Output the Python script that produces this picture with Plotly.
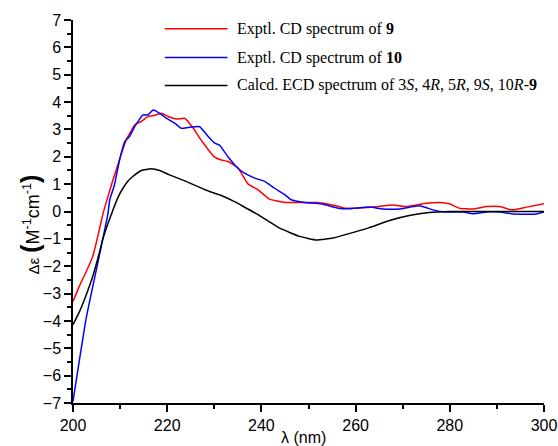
import plotly.graph_objects as go

# ---- data ----
red_x = [200, 201.4, 202.8, 204.2, 205, 206.4, 207.5, 208.5, 209.5, 210.3, 211.3, 212.2, 213.1,
         214.5, 215.9, 217, 218.8, 220.2, 222, 223.7, 225.5, 226.9, 227.9, 229, 230, 231.5,
         232.9, 235, 237.2, 239.3, 241.7, 245, 249.2, 252, 255.6, 257.7, 260, 263.6, 267.9,
         270.7, 275, 277.8, 279.9, 282.1, 284.9, 287.8, 290.6, 293.1, 296.3, 300]
red_y = [-3.29, -2.71, -2.2, -1.64, -1.1, -0.06, 0.6, 1.16, 1.7, 2.13, 2.62, 2.9, 3.17,
         3.29, 3.47, 3.5, 3.59, 3.47, 3.38, 3.41, 3.05, 2.68, 2.45, 2.2, 2.0, 1.88,
         1.83, 1.6, 1.0, 0.79, 0.45, 0.33, 0.33, 0.33, 0.22, 0.12, 0.12, 0.16, 0.24,
         0.18, 0.30, 0.33, 0.28, 0.12, 0.09, 0.18, 0.18, 0.06, 0.16, 0.28]

blue_x = [200, 202.8, 205.7, 207.4, 207.8, 208.8, 209.9, 211, 212, 213.1, 214.9, 215.9, 217,
          218.4, 219.8, 221.6, 223, 224.5, 226.9, 228.7, 230.1, 231.1, 232.9, 235, 236.4,
          238.6, 240.7, 242.8, 245, 246.3, 249.2, 252.7, 256.3, 258.7, 262.9, 265.8, 269.3,
          273.6, 276.4, 279.3, 282.8, 284.9, 287.8, 290.6, 293.5, 298.4, 300]
blue_y = [-6.94, -3.9, -1.52, -0.1, 0.43, 0.97, 1.89, 2.56, 2.74, 3.1, 3.53, 3.53, 3.71,
          3.59, 3.41, 3.23, 3.04, 3.07, 3.1, 2.74, 2.5, 2.43, 2.0, 1.58, 1.4,
          1.22, 1.1, 0.85, 0.61, 0.43, 0.33, 0.28, 0.12, 0.1, 0.16, 0.09, 0.09,
          0.21, 0.06, -0.02, -0.02, -0.08, -0.02, -0.02, -0.09, -0.09, -0.02]

black_x = [200, 201.4, 202.8, 204.2, 205.3, 206.4, 207.5, 208.5, 209.5, 210.6, 211.6, 212.7,
           214.5, 216.6, 218.4, 220.5, 224, 226.9, 229, 231.1, 234.3, 236.5, 239.6, 243.9,
           248.1, 251.7, 255.2, 258.8, 262.9, 267.2, 271.4, 275.6, 280, 290, 300]
black_y = [-4.14, -3.65, -3.05, -2.37, -1.7, -0.97, -0.4, 0.06, 0.5, 0.85, 1.1, 1.28,
           1.5, 1.56, 1.5, 1.34, 1.1, 0.88, 0.73, 0.61, 0.36, 0.15, -0.15, -0.61,
           -0.91, -1.04, -0.97, -0.8, -0.59, -0.33, -0.15, -0.04, 0.0, 0.0, 0.0]

legend_labels = [
    "Exptl. CD spectrum of <b>9</b>",
    "Exptl. CD spectrum of <b>10</b>",
    "Calcd. ECD spectrum of 3<i>S</i>, 4<i>R</i>, 5<i>R</i>, 9<i>S</i>, 10<i>R</i>-<b>9</b>",
]
colors = ["#ff0000", "#0000ff", "#000000"]

fig = go.Figure()
for xs, ys, c, name in zip([red_x, blue_x, black_x], [red_y, blue_y, black_y], colors, legend_labels):
    fig.add_trace(go.Scatter(x=xs, y=ys, mode="lines", name=name,
                             line=dict(color=c, width=1.5, shape="spline", smoothing=0.4),
                             showlegend=False))

# manual legend
leg_y = [0.977, 0.902, 0.829]
for ly, c, name in zip(leg_y, colors, legend_labels):
    fig.add_shape(type="line", xref="paper", yref="paper", x0=0.195, x1=0.328, y0=ly, y1=ly,
                  line=dict(color=c, width=1.5))
    fig.add_annotation(xref="paper", yref="paper", x=0.343, y=ly, text=name, showarrow=False,
                       xanchor="left", yanchor="middle",
                       font=dict(family="Liberation Serif", size=16, color="black"))

# axis titles
fig.add_annotation(xref="paper", yref="paper", x=0.49, y=-0.09, text="λ (nm)", showarrow=False,
                   xanchor="center", yanchor="middle",
                   font=dict(family="Liberation Sans", size=16, color="black"))
fig.add_annotation(xref="paper", yref="paper", x=-0.092, y=0.465, textangle=-90, showarrow=False,
                   xanchor="center", yanchor="middle",
                   text="<span style='font-size:15px'>Δε</span> <span style='font-size:25px;font-weight:bold'>(</span>M<sup>-1</sup>cm<sup>-1</sup><span style='font-size:25px;font-weight:bold'>)</span>",
                   font=dict(family="Liberation Sans", size=18, color="black"))

axis_common = dict(showline=True, linecolor="black", linewidth=1.5, ticks="outside",
                   ticklen=7, tickwidth=1.5, tickcolor="black", showgrid=False, zeroline=False,
                   tickfont=dict(family="Liberation Sans", size=16, color="black"), mirror=False,
                   automargin=False)

fig.update_xaxes(range=[200, 300], tick0=200, dtick=20,
                 minor=dict(ticks="outside", ticklen=4, tickwidth=1.5, tickcolor="black", dtick=10),
                 **axis_common)
fig.update_yaxes(range=[-7, 7], tick0=-7, dtick=1,
                 minor=dict(ticks="outside", ticklen=4, tickwidth=1.5, tickcolor="black", dtick=0.5),
                 **axis_common)

fig.update_layout(width=558, height=446, margin=dict(l=73, r=14, t=20, b=43),
                  plot_bgcolor="white", paper_bgcolor="white")

# remove the default page margin so the figure fills the window exactly
fig.write_html("out.html", config={"displayModeBar": False},
               post_script="document.body.style.margin='0';document.body.style.overflow='hidden';")
